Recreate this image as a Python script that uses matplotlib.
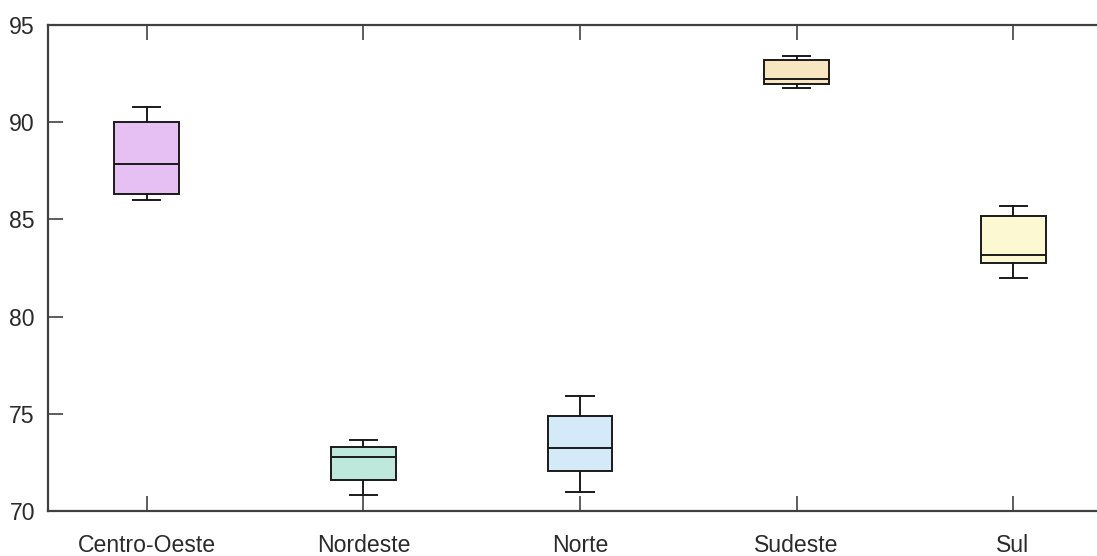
import matplotlib
matplotlib.use("Agg")
import matplotlib.pyplot as plt

plt.rcParams['font.family'] = ['Liberation Sans', 'DejaVu Sans']

# five-number summaries per region
regions = ['Centro-Oeste', 'Nordeste', 'Norte', 'Sudeste', 'Sul']
whis_lo = [86.0, 70.82, 70.98, 91.74, 81.97]
q1 = [86.31, 71.59, 72.04, 91.98, 82.77]
median = [87.87, 72.78, 73.22, 92.21, 83.15]
q3 = [90.01, 73.29, 74.87, 93.18, 85.17]
whis_hi = [90.77, 73.65, 75.92, 93.39, 85.69]
colors = ['#e6c0f3', '#bfe8dc', '#d5eaf8', '#f8e6c0', '#fcf8d2']

stats = []
for i, name in enumerate(regions):
    stats.append({'label': name, 'whislo': whis_lo[i], 'q1': q1[i],
                  'med': median[i], 'q3': q3[i], 'whishi': whis_hi[i],
                  'fliers': []})

fig = plt.figure(figsize=(10.97, 5.56), dpi=100)
ax = fig.add_axes([0.04376, 0.0809, 1.01367 - 0.04376, 0.955 - 0.0809])

positions = list(range(1, len(regions) + 1))
box = ax.bxp(stats, positions=positions, widths=0.30, capwidths=0.125,
             patch_artist=True, showfliers=False,
             boxprops=dict(edgecolor='#1a1a1a', linewidth=1.4),
             medianprops=dict(color='#1a1a1a', linewidth=1.4),
             whiskerprops=dict(color='#1a1a1a', linewidth=1.4),
             capprops=dict(color='#1a1a1a', linewidth=1.4))

for patch, color in zip(box['boxes'], colors):
    patch.set_facecolor(color)

ax.set_xlim(0.543, 5.457)
ax.set_ylim(70, 95)
ax.set_yticks([70, 75, 80, 85, 90, 95])
ax.set_xticks(positions)
ax.set_xticklabels(regions)

for s in ax.spines.values():
    s.set_color('#404040')
    s.set_linewidth(1.6)

ax.tick_params(axis='both', direction='in', length=10.8, width=1.1,
               color='#303030', labelsize=16.6, labelcolor='#2a2a2a')
ax.tick_params(axis='x', top=True, pad=16.3)
ax.tick_params(axis='y', right=True, pad=9.4)

fig.savefig('out.png', dpi=100)
